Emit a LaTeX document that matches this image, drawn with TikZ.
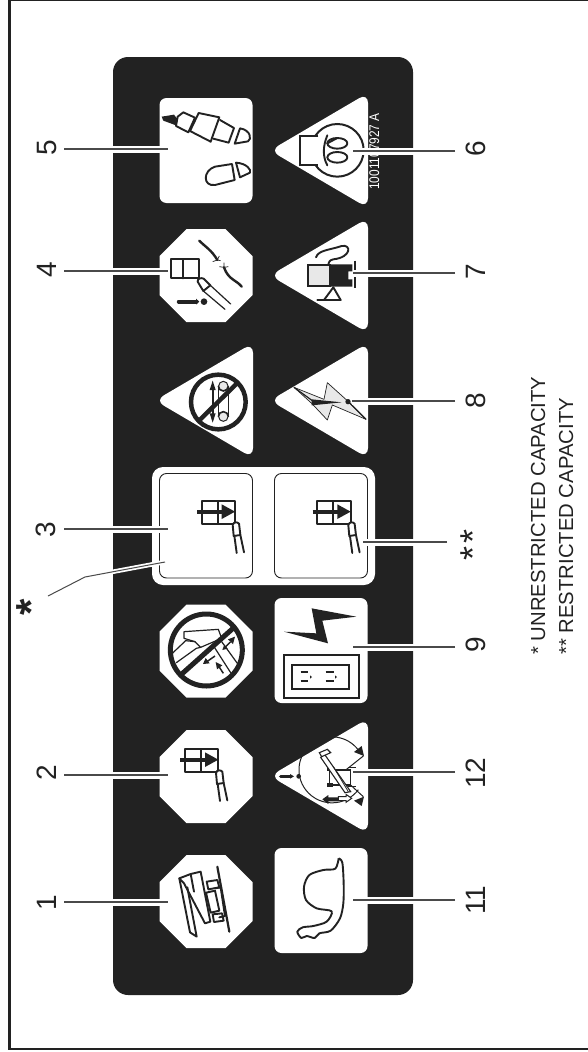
\documentclass[tikz,border=0pt]{standalone}
\usepackage{fontspec}
\usepackage{graphicx}
\setmainfont{Liberation Sans}
\definecolor{ink}{HTML}{222222}
\definecolor{lead}{HTML}{4A4A4A}
\definecolor{pale}{HTML}{E8E8E8}
\tikzset{
  zm/.style 2 args={shift={(#1,#2)},x=0.33333pt,y=-0.33333pt},
  leader/.style={draw=lead,line width=1.1pt,preaction={draw=white,line width=7pt}},
  starleader/.style={draw=lead,line width=1pt,preaction={draw=white,line width=4.5pt}},
  plate/.style={fill=white,draw=none},
  gl/.style={draw=ink,line width=1.9pt,line join=round,line cap=round},
  thin gl/.style={draw=ink,line width=1.2pt,line join=round,line cap=round},
  num/.style={rotate=90,inner sep=0pt,font=\fontsize{28}{30}\selectfont,text=ink},
  note/.style={rotate=90,anchor=base west,inner sep=0pt,font=\fontsize{20.3}{22}\selectfont,text=ink},
}
% plates: #1 centre x, #2 centre y
\newcommand\octaplate[2]{\fill[plate] (#1-46.5,#2-19.5) -- (#1-19.5,#2-46.5) -- (#1+19.5,#2-46.5) -- (#1+46.5,#2-19.5) -- (#1+46.5,#2+19.5) -- (#1+19.5,#2+46.5) -- (#1-19.5,#2+46.5) -- (#1-46.5,#2+19.5) -- cycle;}
\newcommand\triplate[2]{\fill[plate,rounded corners=10pt] (#1-51,#2) -- (#1+47,#2-57.5) -- (#1+47,#2+57.5) -- cycle;}
\newcommand\squareplate[2]{\fill[plate,rounded corners=7pt] (#1-46.5,#2-52.5) rectangle (#1+46.5,#2+52.5);}
% window + wand, origin at top-left of the grid
\newcommand\wandglyph[2]{%
\begin{scope}[zm={#1}{#2}]
  \draw[gl] (0,0) rectangle (100,68);
  \draw[gl] (48,0) -- (48,68);
  \draw[ink,line width=3.8pt] (-14,32) -- (70,32);
  \fill[ink] (60,10) -- (100,32) -- (60,54) -- cycle;
  \draw[gl,fill=white] (93,72) .. controls (96,62) and (106,62) .. (112,68) -- (116,102) -- (96,105) -- cycle;
  \draw[gl] (98,105) -- (105,156);
  \draw[gl] (116,102) -- (127,154);
\end{scope}}
\begin{document}
\begin{tikzpicture}[x=1pt,y=-1pt]
\useasboundingbox (0,0) rectangle (588,1052);
% frame
\fill[ink] (8,0) rectangle (11,1050);
\fill[ink] (8,0) rectangle (588,1.2);
\fill[ink] (8,1047.5) rectangle (588,1050);
% panel
\fill[ink,rounded corners=15pt] (113,57) rectangle (413,995);
% plates
\squareplate{206}{150.5}
\triplate{321}{150.5}
\octaplate{206}{275.5}
\triplate{321}{275.5}
\triplate{206}{400.5}
\triplate{321}{400.5}
\fill[white,rounded corners=11pt] (152,467) rectangle (375,585);
\draw[fill=white,draw=ink,line width=.9pt,rounded corners=7pt] (159.5,473.5) rectangle (252.5,578);
\draw[fill=white,draw=ink,line width=.9pt,rounded corners=7pt] (274.5,473.5) rectangle (367.5,578);
\octaplate{206}{651}
\squareplate{321}{650.5}
\octaplate{206}{776.5}
\triplate{321}{776}
\octaplate{206}{901.5}
\squareplate{321}{900.5}
%
% ---- icon 5 and 6, 4 and 7 (crop 1)
\begin{scope}[zm={100}{50}]
  \fill[ink] (185,200) -- (222,194) -- (233,208) -- (228,226) -- (190,212) -- cycle;
  \draw[gl] (233,200) -- (250,187) -- (285,203) -- (265,247) -- (228,228) -- cycle;
  \draw[gl] (296,189) -- (358,202) -- (332,275) -- (270,243) -- cycle;
  \draw[gl] (360,210) -- (402,234) -- (386,278) -- (340,266);
  \draw[gl] (420,235) .. controls (452,240) and (456,268) .. (444,274) -- (404,281) -- cycle;
  \draw[gl] (396,342) -- (345,350) .. controls (308,362) and (308,410) .. (345,405) -- (404,390) -- cycle;
  \draw[gl] (408,338) .. controls (440,340) and (455,360) .. (450,368) -- (420,382) -- cycle;
  % bulb
  \draw[ink,line width=2pt] (712,301) circle (79);
  \draw[ink,line width=2.2pt,fill=white] (655,258) -- (600,258) -- (600,345) -- (655,345);
  \fill[white] (645,262) rectangle (665,342);
  \draw[gl] (712,280) ellipse (30 and 16);
  \draw[gl] (712,322) ellipse (30 and 16);
  \draw[gl] (682,256) .. controls (668,290) and (668,320) .. (682,346);
  \draw[gl] (682,280) -- (712,264);
  % wand panel
  \draw[gl] (213,628) rectangle (296,685);
  \draw[gl] (250,628) -- (250,685);
  \draw[gl] (293,695) .. controls (292,686) and (302,682) .. (311,686) -- (331,706) -- (310,723) -- cycle;
  \draw[thin gl] (331,706) -- (392,762);
  \draw[thin gl] (310,723) -- (375,778);
  \draw[ink,line width=3.8pt,line cap=round] (236,755) -- (288,755);
  \fill[ink] (288,746) -- (298,755) -- (288,764) -- cycle;
  \fill[ink] (312,755) circle (10);
  % broken wire
  \draw[ink,line width=2.4pt,line cap=round] (298,572) .. controls (315,590) and (335,600) .. (352,630);
  \draw[ink,line width=2.4pt,line cap=round] (372,652) .. controls (385,690) and (410,690) .. (425,710);
  \draw[ink,line width=.7pt] (352,630) -- (338,635) (352,630) -- (358,618) (352,630) -- (362,632);
  \draw[ink,line width=.7pt] (372,652) -- (358,650) (372,652) -- (372,638) (372,652) -- (385,650);
  % device
  \draw[ink,line width=1.8pt,fill=pale] (625,645) rectangle (690,708);
  \fill[ink] (690,643) -- (757,643) -- (757,664) -- (745,664) -- (745,688) -- (757,688) -- (757,710) -- (690,710) -- cycle;
  \draw[ink,line width=1.8pt] (766,632) -- (766,715);
  \draw[gl] (672,750) -- (700,712) -- (722,750) -- cycle;
  \draw[gl] (652,750) -- (722,750);
  \draw[gl] (648,622) .. controls (655,600) and (690,600) .. (725,588) .. controls (755,582) and (755,622) .. (700,628) .. controls (690,630) and (686,635) .. (685,645);
\end{scope}
%
% ---- conveyor, lightning (crop 2)
\begin{scope}[zm={100}{370}]
  \fill[pale,draw=ink,line width=1pt] (370,48) circle (14) (370,140) circle (14);
  \draw[ink,line width=1pt] (354,48) -- (354,140) (386,48) -- (386,140);
  \draw[ink,line width=1pt] (354,48) arc (180:0:16) (354,140) arc (180:360:16);
  \draw[ink,line width=1.8pt] (338,45) -- (338,148);
  \fill[ink] (338,32) -- (347,60) -- (329,60) -- cycle;
  \fill[ink] (338,158) -- (347,130) -- (329,130) -- cycle;
  \draw[ink,line width=4.5pt] (355,96) circle (82);
  \draw[ink,line width=4.5pt] (297,152) -- (413,38);
  % bolt
  \fill[pale,draw=ink,line width=.7pt,line join=round] (582,52) -- (672,88) -- (682,38) -- (742,92) -- (798,148) -- (697,105) -- (682,150) -- (635,100) -- cycle;
  \fill[ink] (635,88) -- (725,97) -- (635,106) -- cycle;
  \draw[ink,line width=1.2pt] (745,95) -- (798,148);
  \draw[ink,line width=1.2pt] (582,52) -- (637,92);
  \fill[ink] (744,95) circle (8);
\end{scope}
\wandglyph{201.7}{501}
\wandglyph{317.3}{501}
\wandglyph{185}{749}
%
% ---- prohibited machine, outlet (crop 11)
\begin{scope}[zm={159}{600}]
  \draw[thin gl] (75,95) -- (178,88) -- (188,115) -- (125,142) -- (108,125) -- (75,115) -- cycle;
  \draw[thin gl] (40,160) -- (80,122) -- (108,125);
  \draw[thin gl] (52,188) -- (112,145) -- (125,142);
  \draw[thin gl] (165,140) -- (215,218);
  \draw[thin gl] (188,125) -- (235,190);
  \draw[ink,line width=1.5pt] (198,142) -- (215,125);
  \fill[ink] (228,110) -- (222,132) -- (207,118) -- cycle;
  \fill[ink] (190,150) -- (196,134) -- (206,146) -- cycle;
  \draw[ink,line width=1.5pt] (168,168) -- (145,184);
  \fill[ink] (132,192) -- (140,174) -- (152,190) -- cycle;
  \draw[ink,line width=1.5pt] (193,220) -- (180,200);
  \fill[ink] (170,186) -- (190,196) -- (174,208) -- cycle;
  \draw[ink,line width=5pt] (142,150) circle (108);
  \draw[ink,line width=5pt] (65,225) -- (222,85);
  % lightning
  \fill[ink] (458,25) -- (592,50) -- (490,62) -- (507,130) -- (375,95) -- (472,100) -- cycle;
  \draw[ink,line width=2pt] (375,165) rectangle (600,295);
  \draw[ink,line width=2pt] (400,195) rectangle (570,268);
  \draw[ink,line width=1.8pt] (425,215) -- (448,215) (425,243) -- (448,243);
  \draw[ink,line width=1.8pt] (500,215) -- (525,215) (500,243) -- (525,243);
  \fill[ink] (453,226) -- (459,231) -- (453,236) -- cycle;
  \fill[ink] (528,226) -- (534,231) -- (528,236) -- cycle;
\end{scope}
%
% ---- icons 12, 11, 1 (crop 3)
\begin{scope}[zm={100}{670}]
  % dial
  \draw[ink,line width=3.4pt,line cap=round] (542,319) -- (572,319);
  \fill[ink] (570,312) -- (582,319) -- (570,326) -- cycle;
  \fill[ink] (596,319) circle (7);
  \draw[ink,line width=1pt] (775,240) arc (-37:-323:99) ;
  \fill[ink] (792,258) -- (785,228) -- (762,246) -- cycle;
  \fill[ink] (792,380) -- (785,408) -- (762,392) -- cycle;
  \draw[ink,line width=1pt] (722,312) -- (790,258);
  \draw[ink,line width=1pt] (722,318) -- (790,380);
  % machine
  \draw[ink,line width=1.1pt,fill=white] (688,300) rectangle (752,345);
  \fill[ink] (680,290) rectangle (700,303);
  \fill[ink] (680,340) rectangle (700,350);
  \draw[ink,line width=.8pt] (745,293) -- (768,293) (745,348) -- (768,348);
  \draw[ink,line width=1.1pt,fill=white] (673,252) -- (752,365) -- (735,368) -- (662,262) -- cycle;
  \draw[ink,line width=1.1pt,fill=white] (658,248) -- (682,238) -- (692,248) -- (665,260) -- cycle;
  \draw[ink,line width=.8pt] (700,290) -- (745,365);
  % double arrow
  \fill[ink] (667,388) -- (685,375) -- (685,382) -- (715,382) -- (715,394) -- (685,394) -- (685,402) -- cycle;
  \draw[ink,line width=1pt,fill=white] (715,380) -- (738,380) -- (738,373) -- (755,385) -- (738,397) -- (738,392) -- (715,392) -- cycle;
  % stomach
  \draw[ink,line width=1.9pt,line join=round] plot[smooth] coordinates {(716,565) (727,578) (731,640) (730,700) (720,745) (692,782) (658,790) (644,804) (620,798) (604,804) (592,785) (608,772) (640,768) (680,755) (695,724) (650,715) (618,690) (612,650) (628,615) (670,600) (706,596) (716,565)};
  % unit
  \draw[ink,line width=2.2pt,line cap=round] (352,590) -- (388,785);
  \draw[gl] (238,625) -- (272,612) -- (302,605) -- (331,755) -- (315,760) -- (252,640) -- cycle;
  \draw[gl] (238,625) -- (270,787) -- (290,800) -- (262,652);
  \draw[gl] (272,612) -- (282,665);
  \draw[gl] (320,635) -- (352,630) -- (358,652) -- (325,658) -- cycle;
  \draw[gl] (318,668) -- (345,662) -- (358,722) -- (332,728) -- cycle;
  \draw[gl] (345,655) -- (362,652) -- (375,738) -- (358,742);
  \draw[gl] (338,733) -- (366,730) -- (371,752) -- (342,756) -- cycle;
\end{scope}
%
% part-number text
\node[rotate=90,anchor=base west,inner sep=0pt,text=white,font=\fontsize{14}{15}\selectfont] (partno) at (379,190) {\scalebox{.85}[1]{1001107927 A}};
%
% leader ends
\coordinate (a5) at (64,149);   \coordinate (b5) at (168,149);
\coordinate (a4) at (64,271);   \coordinate (b4) at (168,271);
\coordinate (a3) at (64,529);   \coordinate (b3) at (168,529);
\coordinate (a2) at (64,775);   \coordinate (b2) at (168,775);
\coordinate (a1) at (64,902);   \coordinate (b1) at (168,902);
\coordinate (as) at (48,596);   \coordinate (ms) at (85,577); \coordinate (bs) at (165,562);
\coordinate (a6) at (455,151);  \coordinate (b6) at (353,151);
\coordinate (a7) at (455,273);  \coordinate (b7) at (353,273);
\coordinate (a8) at (455,401);  \coordinate (b8) at (352,401);
\coordinate (ad) at (447,542);  \coordinate (bd) at (363,542);
\coordinate (a9) at (455,647);  \coordinate (b9) at (353,647);
\coordinate (a12) at (455,772); \coordinate (b12) at (353,772);
\coordinate (a11) at (455,900); \coordinate (b11) at (353,900);
\foreach \i in {5,4,3,2,1,6,7,8,d,9,12,11} {\draw[leader] (a\i) -- (b\i);}
\draw[starleader] (as) -- (ms) -- (bs);
% labels
\node[num] (n5) at (47,148) {5};
\node[num] (n4) at (47,270) {4};
\node[num] (n3) at (46,530) {3};
\node[num] (n2) at (47,773) {2};
\node[num] (n1) at (47,903) {1};
\node[num] (n6) at (476,149) {6};
\node[num] (n7) at (476,272) {7};
\node[num] (n8) at (476,401) {8};
\node[num] (n9) at (476,645) {9};
\node[num] (n12) at (476,773) {12};
\node[num] (n11) at (476,900) {11};
\node[rotate=90,inner sep=0pt,text=ink,font=\fontsize{36}{38}\selectfont] (nd) at (473.5,544.5) {*\hspace{3pt}*};
\node[rotate=90,inner sep=0pt,text=ink,font=\bfseries\fontsize{42}{44}\selectfont] (ns) at (31,607) {*};
\node[note] (t1) at (545,655) {* UNRESTRICTED CAPACITY};
\node[note] (t2) at (573,655) {** RESTRICTED CAPACITY};
\end{tikzpicture}
\end{document}
